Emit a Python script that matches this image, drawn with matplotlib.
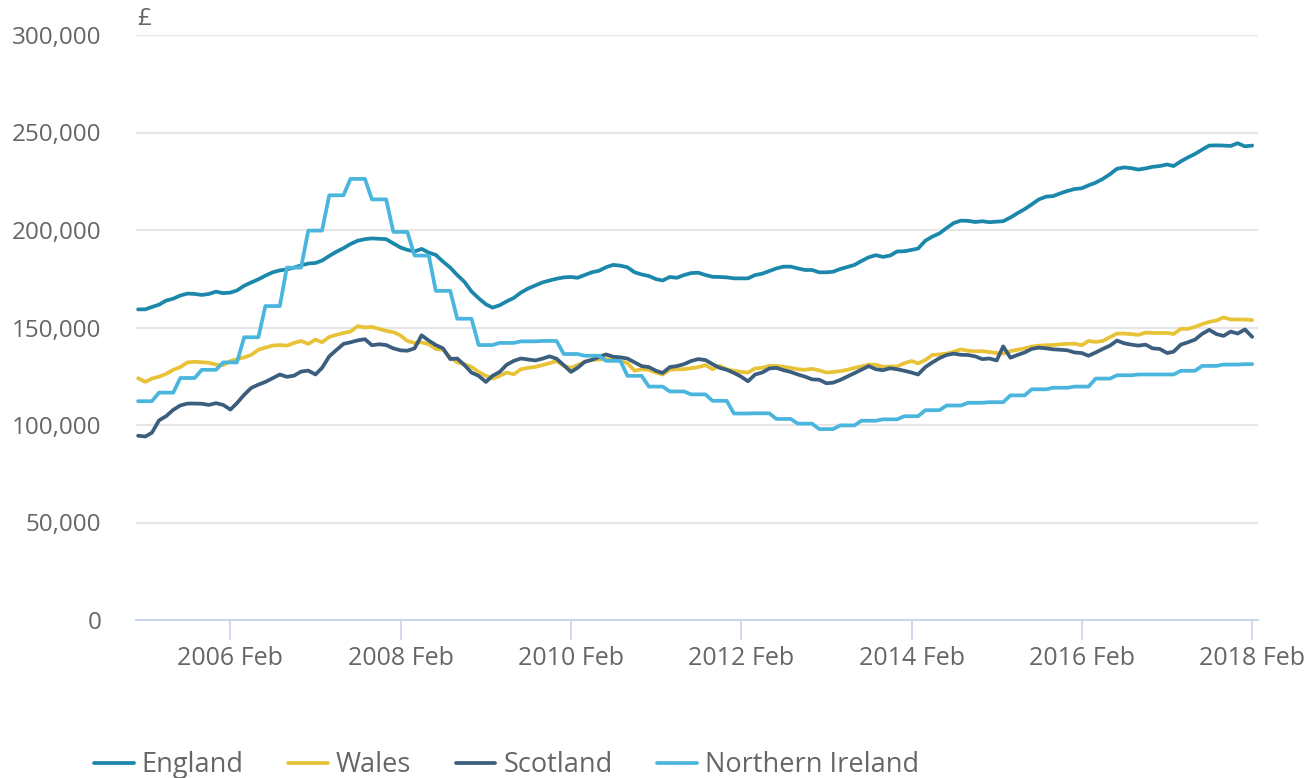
import matplotlib.pyplot as plt
import matplotlib.ticker as mticker
import numpy as np
import pandas as pd

# average house price, thousands of pounds, monthly Jan 2005 - Feb 2018
months = pd.date_range('2005-01-01', '2018-02-01', freq='MS')

england = [
    159.3, 159.3, 160.5, 161.7, 163.8, 164.8, 166.4, 167.4, 167.2, 166.7, 167.2, 168.4,
    167.6, 167.9, 169.0, 171.4, 173.1, 174.7, 176.6, 178.3, 179.3, 179.8, 180.7, 181.9,
    182.8, 183.1, 184.3, 186.7, 188.8, 190.7, 192.8, 194.5, 195.3, 195.7, 195.5, 195.3,
    193.1, 191.0, 189.8, 189.0, 190.3, 188.4, 187.2, 183.8, 180.7, 176.9, 173.4, 168.5,
    165.0, 161.9, 160.2, 161.4, 163.4, 165.2, 167.9, 170.0, 171.6, 173.1, 174.1, 175.0,
    175.7, 175.9, 175.5, 176.9, 178.3, 179.1, 180.9, 182.1, 181.7, 180.9, 178.3, 177.2,
    176.4, 174.8, 174.1, 175.9, 175.5, 176.9, 177.9, 178.1, 176.9, 176.0, 175.9, 175.7,
    175.2, 175.2, 175.2, 176.9, 177.6, 179.0, 180.3, 181.2, 181.2, 180.3, 179.5, 179.5,
    178.3, 178.3, 178.6, 180.0, 181.0, 182.1, 184.1, 186.0, 187.1, 186.2, 186.9, 189.0,
    189.1, 189.8, 190.5, 194.5, 196.6, 198.3, 201.0, 203.6, 204.8, 204.7, 204.1, 204.5,
    204.0, 204.3, 204.5, 206.4, 208.6, 210.7, 213.1, 215.7, 217.1, 217.4, 218.8, 220.0,
    221.0, 221.4, 222.9, 224.3, 226.2, 228.6, 231.4, 232.1, 231.7, 231.0, 231.6, 232.4,
    232.8, 233.6, 232.8, 235.2, 237.2, 239.0, 241.2, 243.3, 243.4, 243.3, 243.1, 244.5,
    242.9, 243.3,
]

wales = [
    124.0, 122.1, 123.8, 124.8, 126.2, 128.3, 129.7, 132.1, 132.4, 132.2, 131.9, 131.0,
    130.7, 132.8, 133.8, 134.7, 135.9, 138.6, 139.7, 140.7, 141.0, 140.7, 142.1, 143.1,
    141.6, 143.8, 142.4, 145.2, 146.2, 147.2, 147.9, 150.7, 150.0, 150.3, 149.3, 148.3,
    147.6, 145.9, 143.1, 142.1, 142.4, 141.4, 139.0, 138.6, 134.7, 132.1, 131.2, 129.8,
    127.2, 125.2, 123.8, 125.2, 126.9, 126.0, 128.6, 129.3, 129.8, 130.7, 131.7, 132.8,
    130.3, 129.3, 130.7, 132.4, 133.4, 133.6, 133.8, 133.6, 132.9, 131.7, 127.8, 128.6,
    128.3, 126.9, 125.9, 128.3, 128.6, 128.6, 129.1, 129.7, 130.7, 128.6, 130.3, 128.6,
    127.8, 127.2, 126.9, 129.0, 129.3, 130.3, 130.3, 129.8, 129.3, 128.6, 128.3, 128.8,
    128.0, 126.9, 127.2, 127.6, 128.3, 129.3, 130.0, 131.0, 130.9, 129.8, 130.0, 130.0,
    131.7, 132.8, 131.6, 133.3, 135.9, 136.2, 136.6, 137.6, 138.8, 138.1, 137.8, 137.9,
    137.4, 136.9, 136.6, 137.9, 138.6, 139.3, 140.2, 140.7, 140.9, 141.0, 141.4, 141.6,
    141.7, 140.9, 143.1, 142.6, 143.1, 145.0, 146.9, 146.9, 146.6, 146.2, 147.4, 147.2,
    147.2, 147.2, 146.7, 149.3, 149.3, 150.3, 151.7, 152.9, 153.6, 155.2, 154.1, 154.1,
    154.1, 153.8,
]

scotland = [
    94.5, 94.1, 96.0, 102.4, 104.5, 107.8, 110.0, 111.0, 111.0, 110.9, 110.3, 111.2,
    110.3, 107.9, 111.2, 115.5, 119.0, 120.7, 122.1, 124.0, 125.9, 124.7, 125.3, 127.4,
    127.9, 125.9, 129.3, 135.2, 138.4, 141.6, 142.4, 143.4, 144.0, 140.9, 141.4, 141.0,
    139.3, 138.3, 138.1, 139.3, 146.0, 143.3, 141.0, 139.3, 133.8, 134.1, 130.7, 126.9,
    125.2, 122.1, 125.2, 127.2, 130.9, 132.9, 134.1, 133.6, 133.1, 134.0, 135.2, 134.0,
    130.7, 127.2, 129.3, 132.4, 133.4, 134.8, 136.2, 135.0, 134.7, 134.1, 132.1, 130.2,
    129.7, 127.8, 126.7, 129.7, 130.2, 131.2, 132.8, 133.8, 133.3, 131.2, 129.3, 128.3,
    126.7, 124.8, 122.4, 125.9, 126.9, 129.0, 129.3, 128.1, 127.2, 125.9, 124.8, 123.4,
    123.2, 121.4, 121.7, 123.1, 124.8, 126.6, 128.4, 130.2, 128.6, 128.1, 129.1, 128.6,
    127.8, 126.9, 125.9, 129.7, 132.1, 134.3, 135.9, 136.6, 136.0, 135.9, 135.2, 133.8,
    134.1, 133.1, 140.3, 134.5, 135.9, 137.2, 139.0, 139.7, 139.3, 138.8, 138.6, 138.3,
    137.2, 136.9, 135.5, 137.2, 139.0, 140.7, 143.3, 141.9, 141.2, 140.7, 141.2, 139.3,
    139.0, 136.9, 137.6, 141.2, 142.4, 143.8, 146.7, 148.8, 146.6, 145.7, 147.9, 146.9,
    149.0, 145.2,
]

# Northern Ireland is published quarterly, each value holds for three months
ni_quarterly = [
    112.2, 116.6, 124.1, 128.3, 132.1, 145.0, 161.0, 180.7, 199.7, 217.8, 226.2, 215.7,
    199.0, 186.9, 168.8, 154.5, 141.0, 142.1, 142.9, 143.1, 136.4, 135.5, 132.9, 125.2,
    119.7, 117.2, 115.7, 112.4, 105.9, 106.0, 103.1, 100.7, 97.9, 99.8, 102.2, 102.9,
    104.5, 107.6, 110.0, 111.4, 111.7, 115.2, 118.3, 119.1, 119.7, 123.8, 125.5, 125.9,
    125.9, 127.8, 130.3, 131.0, 131.2,
]
northern_ireland = np.repeat(ni_quarterly, 3)[:len(months)]

series = {
    'England': england,
    'Wales': wales,
    'Scotland': scotland,
    'Northern Ireland': northern_ireland,
}
colors = ['#1a87ab', '#e8c237', '#3b5e7f', '#4ab6de']

tick_labels = ['2006 Feb', '2008 Feb', '2010 Feb', '2012 Feb', '2014 Feb', '2016 Feb', '2018 Feb']
tick_dates = pd.to_datetime(tick_labels, format='%Y %b')

plt.rcParams['font.family'] = ['Open Sans', 'DejaVu Sans']
text_color = '#666666'

fig = plt.figure(figsize=(13.15, 7.78), dpi=100)
ax = fig.add_axes([136 / 1315, 1 - 620 / 778, (1258 - 136) / 1315, (620 - 35) / 778])

for (name, values), color in zip(series.items(), colors):
    ax.plot(months, np.array(values) * 1000, color=color, lw=2.7, label=name,
            solid_joinstyle='round', solid_capstyle='round')

ax.set_ylim(0, 300000)
ax.set_yticks(np.arange(0, 300001, 50000))
ax.yaxis.set_major_formatter(mticker.FuncFormatter(lambda v, p: f'{int(v):,}'))
ax.set_xlim(months[0] - pd.Timedelta(days=9), months[-1] + pd.Timedelta(days=25))
ax.set_xticks(tick_dates)
ax.set_xticklabels(tick_labels)

ax.grid(axis='y', color='#e6e6e6', lw=1.5)
ax.set_axisbelow(True)
for side in ['top', 'right', 'left']:
    ax.spines[side].set_visible(False)
ax.spines['bottom'].set_color('#ccd6eb')
ax.spines['bottom'].set_linewidth(1.5)
ax.tick_params(axis='x', colors='#ccd6eb', length=14.5, width=1.3, pad=4,
               labelcolor=text_color, labelsize=18)
ax.tick_params(axis='y', length=0, pad=25, labelcolor=text_color, labelsize=17.5)

fig.text(137 / 1315, 1 - 19 / 778, '£', color=text_color, fontsize=17.5, va='center')

fig.legend(loc='center left', bbox_to_anchor=(70 / 1315, 1 - 765 / 778), ncol=4,
           frameon=False, fontsize=19.5, labelcolor=text_color, handlelength=1.45,
           handletextpad=0.3, columnspacing=1.65)

fig.savefig('out.png', dpi=100)
